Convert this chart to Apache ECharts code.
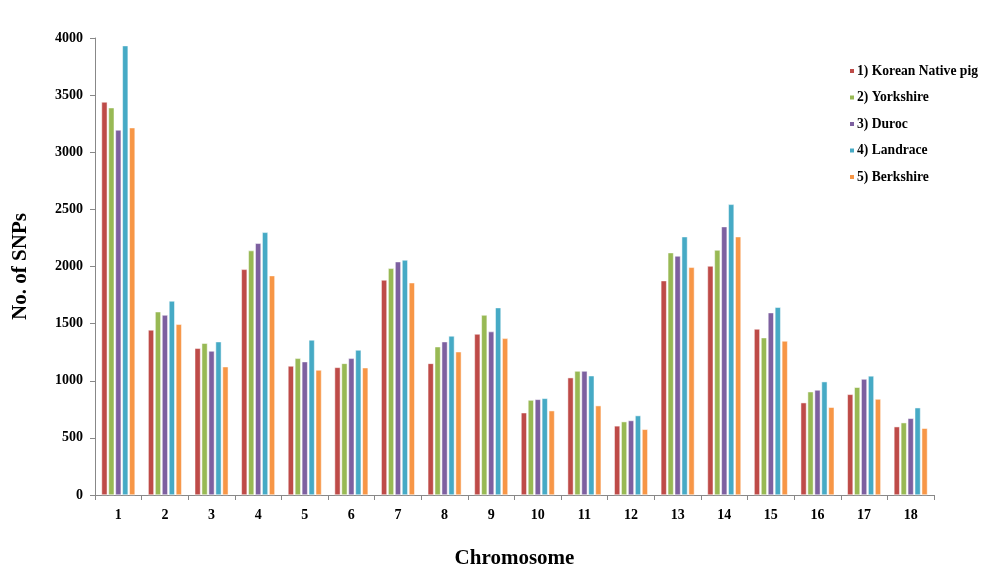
<!DOCTYPE html>
<html>
<head>
<meta charset="utf-8">
<script src="https://cdn.jsdelivr.net/npm/echarts@6/dist/echarts.min.js"></script>
<style>html,body{margin:0;padding:0;background:#fff}#c{width:987px;height:584px}</style>
</head>
<body>
<div id="c"></div>
<script>
var categories = ['1','2','3','4','5','6','7','8','9','10','11','12','13','14','15','16','17','18'];
var seriesNames = ['1) Korean Native pig','2) Yorkshire','3) Duroc','4) Landrace','5) Berkshire'];
var korean   = [3440,1445,1284,1975,1129,1117,1882,1152,1409,720,1027,605,1876,2004,1453,808,881,598];
var yorkshire= [3390,1604,1328,2139,1196,1152,1984,1298,1575,831,1085,642,2121,2144,1377,904,943,633];
var duroc    = [3195,1575,1260,2203,1167,1196,2042,1342,1430,837,1085,652,2092,2349,1596,919,1015,671];
var landrace = [3933,1698,1342,2299,1357,1269,2057,1392,1640,846,1044,695,2261,2544,1643,992,1042,764];
var berkshire= [3215,1494,1123,1920,1094,1114,1858,1254,1371,738,782,575,1993,2261,1348,768,840,584];
var yTicks = [0,500,1000,1500,2000,2500,3000,3500,4000];

var colors = ['#BE4B48','#98B954','#7D60A0','#46AAC5','#F79646'];
var dataSets = [korean, yorkshire, duroc, landrace, berkshire];
var serif = '"Liberation Serif","DejaVu Serif",serif';

var chart = echarts.init(document.getElementById('c'), null, {renderer:'canvas'});
chart.setOption({
  animation:false,
  color: colors,
  grid:{left:95, right:53, top:38, bottom:89},
  legend:{
    orient:'vertical', left:843, top:59, itemGap:12.5, itemWidth:6, itemHeight:6,
    icon:'rect',
    textStyle:{fontFamily:serif, fontWeight:'bold', fontSize:13.6, color:'#000', padding:[0,0,0,-3]},
    data: seriesNames
  },
  xAxis:{
    type:'category', data:categories,
    name:'Chromosome', nameLocation:'middle', nameGap:53,
    nameTextStyle:{fontFamily:serif, fontWeight:'bold', fontSize:21, color:'#000'},
    axisLine:{lineStyle:{color:'#888', width:1}},
    axisTick:{show:true, length:5, lineStyle:{color:'#888'}},
    axisLabel:{fontFamily:serif, fontWeight:'bold', fontSize:14, color:'#000', margin:13},
    splitLine:{show:false}
  },
  yAxis:{
    type:'value', min:yTicks[0], max:yTicks[yTicks.length-1], interval:500,
    name:'No. of SNPs', nameLocation:'middle', nameGap:64, nameRotate:90,
    nameTextStyle:{fontFamily:serif, fontWeight:'bold', fontSize:21, color:'#000'},
    axisLine:{show:true, lineStyle:{color:'#888', width:1}},
    axisTick:{show:true, length:5, lineStyle:{color:'#888'}},
    axisLabel:{fontFamily:serif, fontWeight:'bold', fontSize:14, color:'#000', margin:12,
      formatter:function(v){return String(v);}},
    splitLine:{show:false}
  },
  series: seriesNames.map(function(n,i){
    return {
      name:n, type:'bar', data:dataSets[i],
      barCategoryGap:'28%', barGap:'20%',
      itemStyle:{color:colors[i], borderColor:'#ffffff', borderWidth:0.5}
    };
  })
});
</script>
</body>
</html>
